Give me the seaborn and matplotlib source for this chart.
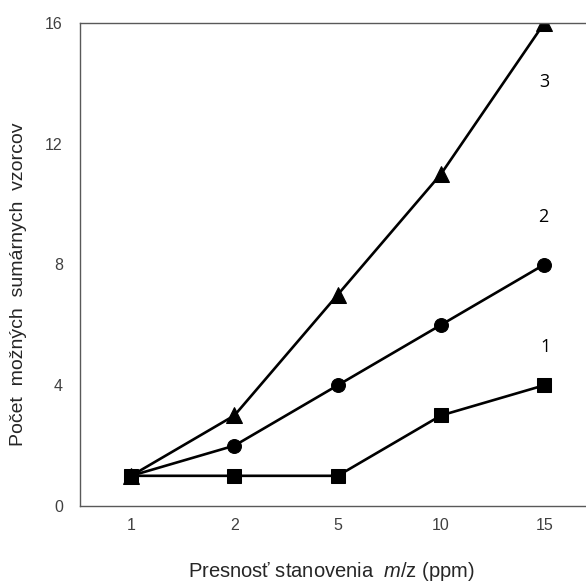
import numpy as np
import pandas as pd
import matplotlib
matplotlib.use("Agg")
import matplotlib.pyplot as plt
import seaborn as sns

# data
categories = ["1", "2", "5", "10", "15"]
series_1 = [1, 1, 1, 3, 4]
series_2 = [1, 2, 4, 6, 8]
series_3 = [1, 3, 7, 11, 16]
series_names = ["1", "2", "3"]
y_ticks = [0, 4, 8, 12, 16]

sns.set_theme(style="white")
plt.rcParams["font.family"] = ["Liberation Sans", "DejaVu Sans"]
plt.rcParams["mathtext.fontset"] = "custom"
plt.rcParams["mathtext.rm"] = "Liberation Sans"
plt.rcParams["mathtext.it"] = "Liberation Sans:italic"

pos = np.arange(len(categories))
df = pd.DataFrame({
    "x": np.tile(pos, 3),
    "y": series_1 + series_2 + series_3,
    "series": np.repeat(series_names, len(categories)),
})

W, H = 586, 582
left, right, top, bottom = 79.5, 596, 23, 506
fig = plt.figure(figsize=(W / 100, H / 100), dpi=100)
ax = fig.add_axes([left / W, 1 - bottom / H, (right - left) / W, (bottom - top) / H])

markers = {"1": "s", "2": "o", "3": "^"}
sizes = {"1": 10.0, "2": 10.0, "3": 11.0}
for name in series_names:
    sub = df[df["series"] == name]
    sns.lineplot(data=sub, x="x", y="y", ax=ax, color="black", linewidth=1.9,
                 marker=markers[name], markersize=sizes[name],
                 markeredgecolor="black", markerfacecolor="black", legend=False)

# series numbers at line ends
label_pos = {"3": (4.0, 14.04), "2": (3.99, 9.57), "1": (4.01, 5.27)}
for name, (lx, ly) in label_pos.items():
    ax.text(lx, ly, name, ha="center", va="center", fontsize=13,
            family=["Open Sans", "DejaVu Sans"], color="black")

ax.set_xlim(-0.5, len(categories) - 0.5)
ax.set_ylim(0, 16)
ax.set_yticks(y_ticks)
ax.set_xticks(pos)
ax.set_xticklabels(categories)
ax.set_xticks(np.arange(len(categories) + 1) - 0.5, minor=True)
ax.tick_params(axis="x", which="major", length=0, labelsize=11.5, pad=8.5, labelcolor="#404040")
ax.tick_params(axis="x", which="minor", length=5, width=1, direction="in", color="#595959")
ax.tick_params(axis="y", which="major", length=4, width=1, direction="in",
               labelsize=11.5, pad=12, labelcolor="#404040", color="#595959")

for side in ["left", "bottom", "top"]:
    ax.spines[side].set_visible(True)
    ax.spines[side].set_color("#595959")
    ax.spines[side].set_linewidth(1.0)
ax.spines["right"].set_visible(False)

ax.set_xlabel(r"Presnosť stanovenia  $\mathit{m/}$z (ppm)", fontsize=14.5, color="#262626",
              va="baseline")
ax.set_ylabel("Počet  možných  sumárnych  vzorcov", fontsize=14, color="#262626", va="center")
ax.xaxis.set_label_coords((331 - left) / (right - left), -(577 - bottom) / (bottom - top))
ax.yaxis.set_label_coords(-(left - 19) / (right - left), (bottom - 284) / (bottom - top))

fig.savefig("out.png", dpi=100)
